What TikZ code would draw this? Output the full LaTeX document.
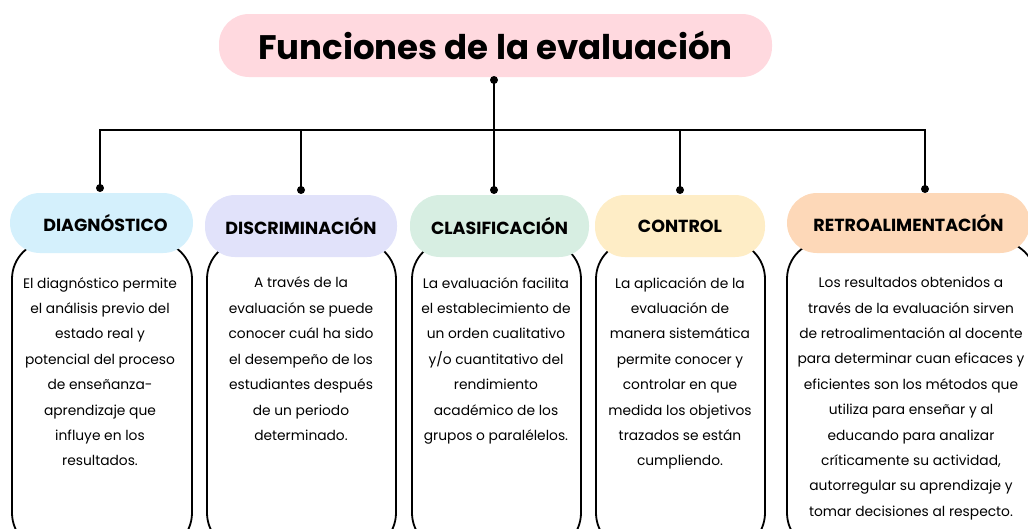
\documentclass[tikz,border=0pt]{standalone}
\usepackage{fontspec}
\setmainfont{Poppins}
\definecolor{titlepink}{HTML}{FFD9DF}
\definecolor{hblue}{HTML}{D4F0FC}
\definecolor{hlav}{HTML}{E1E2FA}
\definecolor{hmint}{HTML}{D7EEE2}
\definecolor{hyel}{HTML}{FEEDC6}
\definecolor{hpeach}{HTML}{FDD8B8}
\begin{document}
\begin{tikzpicture}[x=1pt,y=-1pt,
  conn/.style={line width=1.8pt, black},
  head/.style={rounded corners=30pt, inner sep=0pt, text depth=0pt, font=\fontsize{17.5}{20}\selectfont\bfseries},
  bodybox/.style={draw=black, line width=1.8pt, rounded corners=38pt, fill=white, inner sep=0pt, anchor=north, minimum height=310pt},
  bodytxt/.style={align=center, inner sep=0pt, anchor=north, font=\fontsize{13.8}{25.4}\selectfont}]
\useasboundingbox (0,0) rectangle (1028,528);
\clip (0,0) rectangle (1028,528);
% body boxes
\node[bodybox, minimum width=180pt] (b1) at (102,240) {};
\node[bodybox, minimum width=189pt] (b2) at (301.5,240) {};
\node[bodybox, minimum width=169pt] (b3) at (496.5,240) {};
\node[bodybox, minimum width=169pt] (b4) at (680.5,240) {};
\node[bodybox, minimum width=249pt] (b5) at (911.5,240) {};
% title
\node[head, fill=titlepink, minimum width=553pt, minimum height=63pt, font=\fontsize{34}{38}\selectfont\bfseries] (title) at (495.5,45.5) {Funciones de la evaluación};
% headers
\node[head, fill=hblue, minimum width=183pt, minimum height=60pt] (h1) at (101.5,223) {\hspace{8pt}DIAGNÓSTICO};
\node[head, fill=hlav, minimum width=192pt, minimum height=62pt] (h2) at (301,226) {DISCRIMINACIÓN};
\node[head, fill=hmint, minimum width=179pt, minimum height=62pt] (h3) at (499.5,226) {CLASIFICACIÓN};
\node[head, fill=hyel, minimum width=170pt, minimum height=62pt] (h4) at (680,226) {CONTROL};
\node[head, fill=hpeach, minimum width=243pt, minimum height=60pt] (h5) at (908.5,223) {RETROALIMENTACIÓN\hspace{4pt}};
% body texts
\node[bodytxt] (t1) at (100,277) {El diagnóstico permite\\el análisis previo del\\estado real y\\potencial del proceso\\de enseñanza-\\aprendizaje que\\influye en los\\resultados.};
\node[bodytxt] (t2) at (301,277) {A través de la\\evaluación se puede\\conocer cuál ha sido\\el desempeño de los\\estudiantes después\\de un periodo\\determinado.};
\node[bodytxt] (t3) at (496,277) {La evaluación facilita\\el establecimiento de\\un orden cualitativo\\y/o cuantitativo del\\rendimiento\\académico de los\\grupos o paralélelos.};
\node[bodytxt] (t4) at (680,277) {La aplicación de la\\evaluación de\\manera sistemática\\permite conocer y\\controlar en que\\medida los objetivos\\trazados se están\\cumpliendo.};
\node[bodytxt] (t5) at (911,277) {Los resultados obtenidos a\\través de la evaluación sirven\\de retroalimentación al docente\\para determinar cuan eficaces y\\eficientes son los métodos que\\utiliza para enseñar y al\\educando para analizar\\críticamente su actividad,\\autorregular su aprendizaje y\\tomar decisiones al respecto.};
% connectors
\coordinate (t) at (494,80);
\coordinate (j) at (494,130);
\coordinate (d1) at (100,188);
\coordinate (d2) at (301,190);
\coordinate (d3) at (494,190);
\coordinate (d4) at (680,190);
\coordinate (d5) at (925,189);
\draw[conn] (t) -- (j);
\draw[conn] (d1) -- (d1 |- j) -- (d5 |- j) -- (d5);
\draw[conn] (d2) -- (d2 |- j);
\draw[conn] (d3) -- (j);
\draw[conn] (d4) -- (d4 |- j);
\foreach \p in {t,d1,d2,d3,d4,d5} \fill (\p) circle (4pt);
\end{tikzpicture}
\end{document}
